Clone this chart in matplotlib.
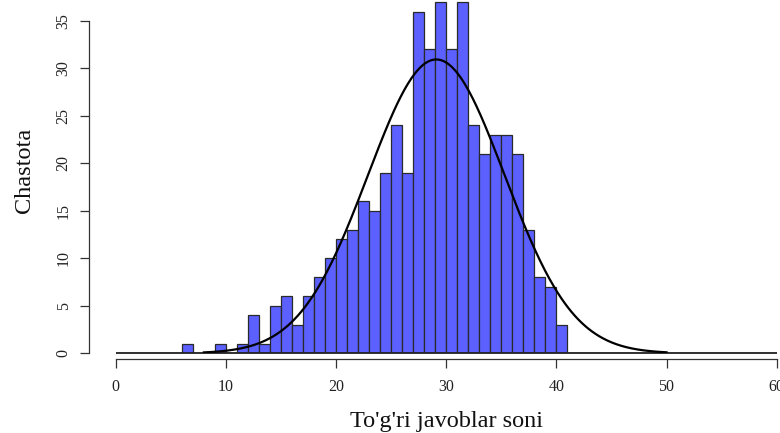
import matplotlib
matplotlib.use("Agg")
import matplotlib.pyplot as plt
import numpy as np

# Histogram data (bins of width 1, from 0 to 60)
bin_starts = list(range(0, 60))
nonzero_bins = [6, 9, 11, 12, 13, 14, 15, 16, 17, 18, 19, 20, 21, 22, 23, 24, 25,
                26, 27, 28, 29, 30, 31, 32, 33, 34, 35, 36, 37, 38, 39, 40]
nonzero_counts = [1, 1, 1, 4, 1, 5, 6, 3, 6, 8, 10, 12, 13, 16, 15, 19, 24,
                  19, 36, 32, 37, 32, 37, 24, 21, 23, 23, 21, 13, 8, 7, 3]
x_ticks = [0, 10, 20, 30, 40, 50, 60]
y_ticks = [0, 5, 10, 15, 20, 25, 30, 35]
curve_mean = 29.1
curve_sd = 6.2
curve_from, curve_to = 8, 50
xlabel = "To'g'ri javoblar soni"
ylabel = "Chastota"

counts = [0] * len(bin_starts)
for b, c in zip(nonzero_bins, nonzero_counts):
    counts[bin_starts.index(b)] = c
n_total = sum(counts)

W, H = 780, 433
fig = plt.figure(figsize=(W / 100, H / 100), dpi=100)
x0_px, x60_px = 115.7, 776.7
y0_px = 353.3
ppu_y = (353.3 - 21.0) / 35
ax = fig.add_axes([x0_px / W, (H - y0_px) / H, (x60_px - x0_px) / W, y0_px / H])
ax.set_xlim(0, 60)
ax.set_ylim(0, y0_px / ppu_y)

ax.bar(bin_starts, counts, width=1.0, align='edge', color='#5b60ff',
       edgecolor='#2a2a2a', linewidth=0.9, zorder=2)
# zero-height bins show as a line along the base
ax.hlines(0, bin_starts[0], bin_starts[-1] + 1, color='#222222', linewidth=1.3,
          zorder=2, clip_on=False)

xs = np.linspace(curve_from, curve_to, 400)
ys = n_total * 1.0 / (curve_sd * np.sqrt(2 * np.pi)) * np.exp(-(xs - curve_mean) ** 2 / (2 * curve_sd ** 2))
ax.plot(xs, ys, color='black', linewidth=1.6, zorder=3)

serif = ['Liberation Serif', 'DejaVu Serif']
for s in ['top', 'right']:
    ax.spines[s].set_visible(False)
ax.spines['left'].set_position(('outward', (x0_px - 89.3) * 0.72))
ax.spines['left'].set_bounds(0, 35)
ax.spines['bottom'].set_position(('outward', (359.0 - y0_px) * 0.72))
ax.spines['bottom'].set_bounds(0, 60)
for s in ['left', 'bottom']:
    ax.spines[s].set_color('#333333')
    ax.spines[s].set_linewidth(0.9)

ax.set_xticks(x_ticks)
ax.set_xticklabels([str(v) for v in x_ticks], family=serif, fontsize=11.5, color='#222222')
ax.set_yticks(y_ticks)
ax.set_yticklabels([str(v) for v in y_ticks], family=serif, fontsize=11.5, color='#222222',
                   rotation=90, va='center')
ax.tick_params(axis='both', length=6.2, width=0.9, color='#333333')
ax.tick_params(axis='x', pad=8)
ax.tick_params(axis='y', pad=6.5)

fig.text(447 / W, 1 - 421 / H, xlabel, family=serif, fontsize=17.5, ha='center', va='center', color='#111111')
fig.text(25 / W, 1 - 170.5 / H, ylabel, family=serif, fontsize=17.5, ha='center', va='center',
         rotation=90, color='#111111')

fig.savefig('out.png', dpi=100)
